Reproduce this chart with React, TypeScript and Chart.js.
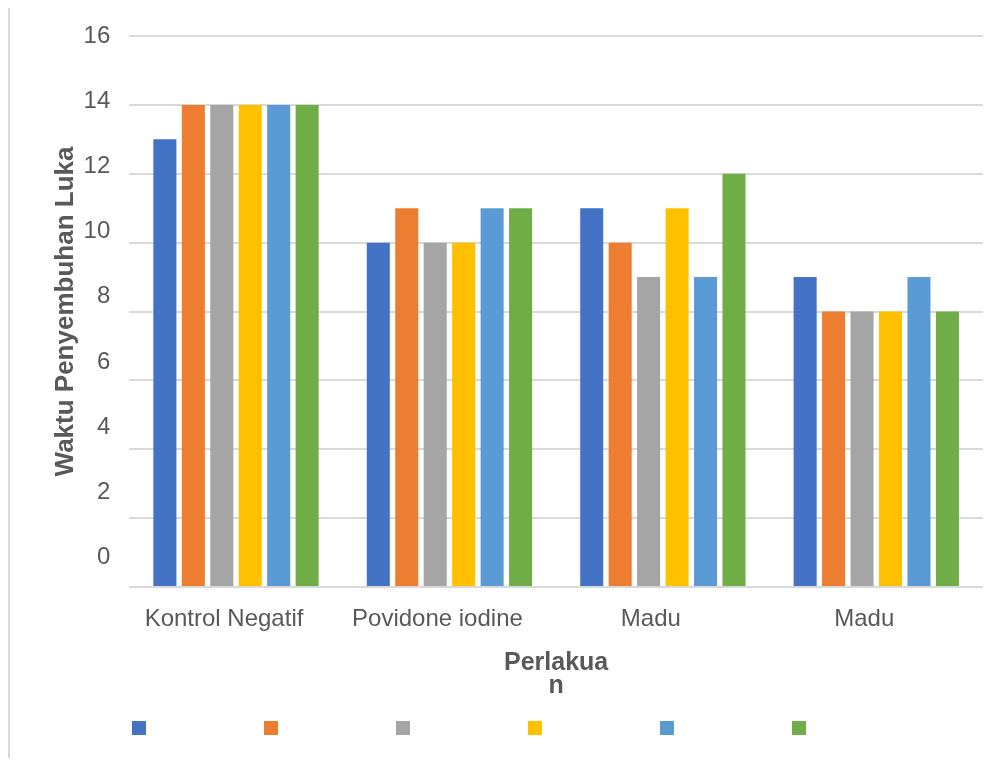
import React, { useEffect, useRef } from 'react';
import { Chart, registerables } from 'chart.js';

Chart.register(...registerables);

// ---- data ----
const categories = ['Kontrol Negatif', 'Povidone iodine', 'Madu', 'Madu'];
const series1 = [13, 10, 11, 9];
const series2 = [14, 11, 10, 8];
const series3 = [14, 10, 9, 8];
const series4 = [14, 10, 11, 8];
const series5 = [14, 11, 9, 9];
const series6 = [14, 11, 12, 8];
const seriesList = [series1, series2, series3, series4, series5, series6];
const seriesColors = ['#4472C4', '#ED7D31', '#A5A5A5', '#FFC000', '#5B9BD5', '#70AD47'];
const yTickLabels = [0, 2, 4, 6, 8, 10, 12, 14, 16];
const yTitle = 'Waktu Penyembuhan Luka';
const xTitle = ['Perlakua', 'n'];

const FONT = "'Liberation Sans', Arial, sans-serif";
const TEXT = '#595959';
const GRID = '#d9d9d9';

function makeSwatch(color: string) {
  const c = document.createElement('canvas');
  c.width = 90;
  c.height = 14;
  const g = c.getContext('2d');
  if (g) {
    g.fillStyle = color;
    g.fillRect(76, 0, 14, 14);
  }
  return c;
}

export default function App() {
  const ref = useRef<HTMLCanvasElement | null>(null);

  useEffect(() => {
    if (!ref.current) return;
    const swatches = seriesColors.map(makeSwatch);
    const chart = new Chart(ref.current, {
      type: 'bar',
      data: {
        labels: categories,
        datasets: seriesList.map((s, i) => ({
          label: '',
          data: s,
          backgroundColor: seriesColors[i],
          borderWidth: 0,
          categoryPercentage: 0.8,
          barPercentage: 0.81,
          xAxisID: 'x',
          yAxisID: 'y',
        })),
      },
      options: {
        animation: false,
        responsive: true,
        maintainAspectRatio: false,
        layout: { padding: { left: 20, right: 17, top: 28, bottom: 19 } },
        plugins: {
          tooltip: { enabled: false },
          legend: {
            position: 'bottom',
            align: 'start',
            labels: {
              usePointStyle: true,
              pointStyleWidth: 120,
              padding: 11,
              font: { size: 2, family: FONT },
              generateLabels: (ch: any) =>
                ch.data.datasets.map((ds: any, i: number) => ({
                  text: '',
                  fillStyle: seriesColors[i],
                  strokeStyle: seriesColors[i],
                  lineWidth: 0,
                  pointStyle: swatches[i],
                  hidden: false,
                  datasetIndex: i,
                })),
            },
          },
        },
        scales: {
          x: {
            grid: { display: false },
            border: { display: false },
            ticks: {
              color: TEXT,
              font: { family: FONT, size: 24, lineHeight: 1.2 },
              padding: 10,
              labelOffset: -12,
              maxRotation: 0,
              autoSkip: false,
            },
            title: {
              display: true,
              text: xTitle,
              color: TEXT,
              font: { family: FONT, size: 25, weight: 'bold', lineHeight: 0.9 },
              padding: { top: 8.3, bottom: 18.9 },
            },
          },
          y: {
            min: 0,
            max: 16,
            ticks: { display: false, stepSize: 2 },
            grid: { color: GRID, lineWidth: 2, drawTicks: false },
            border: { display: false },
          },
          yLabels: {
            type: 'linear',
            position: 'left',
            axis: 'y',
            min: -0.9,
            max: 16,
            grid: { display: false, drawTicks: false },
            border: { display: false },
            afterBuildTicks: (axis: any) => {
              axis.ticks = yTickLabels.map((v) => ({ value: v }));
            },
            ticks: {
              color: TEXT,
              font: { family: FONT, size: 24, lineHeight: 0.7 },
              padding: 19,
            },
            title: {
              display: true,
              text: yTitle,
              color: TEXT,
              font: { family: FONT, size: 26, weight: 'bold', lineHeight: 1.2 },
              padding: { top: 20.6, bottom: -17.2 },
            },
          },
        },
      } as any,
    });
    return () => chart.destroy();
  }, []);

  return (
    <div
      style={{
        position: 'relative',
        top: -2,
        width: 992,
        height: 752,
        borderTop: `2px solid ${GRID}`,
        borderLeft: `2px solid ${GRID}`,
        boxSizing: 'border-box',
        background: '#fff',
      }}
    >
      <div style={{ position: 'relative', width: 990, height: 750 }}>
        <canvas ref={ref} />
      </div>
    </div>
  );
}
